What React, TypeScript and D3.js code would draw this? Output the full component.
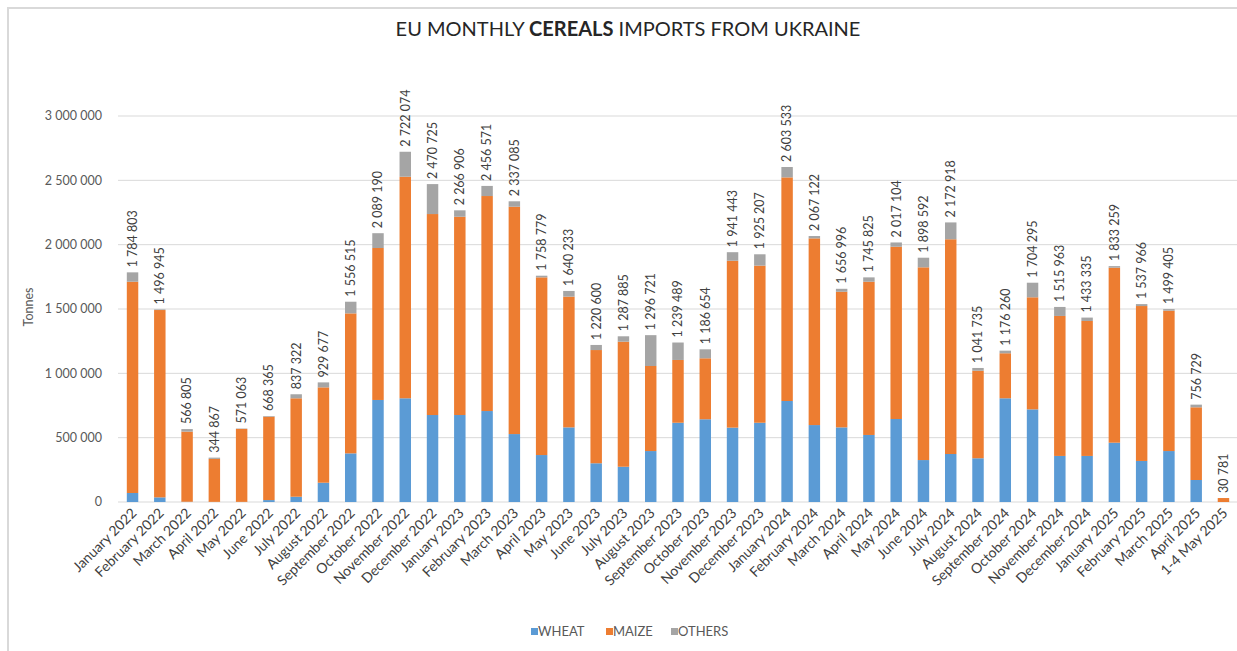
import React from "react";
import * as d3 from "d3";

const categories = [
  "January 2022","February 2022","March 2022","April 2022","May 2022","June 2022","July 2022","August 2022","September 2022","October 2022","November 2022","December 2022",
  "January 2023","February 2023","March 2023","April 2023","May 2023","June 2023","July 2023","August 2023","September 2023","October 2023","November 2023","December 2023",
  "January 2024","February 2024","March 2024","April 2024","May 2024","June 2024","July 2024","August 2024","September 2024","October 2024","November 2024","December 2024",
  "January 2025","February 2025","March 2025","April 2025","1-4 May 2025",
];

const wheat = [
  70000, 36000, 2000, 1000, 1000, 15000, 41000, 150000, 378000, 793000, 806000, 676000,
  676000, 707000, 528000, 365000, 580000, 301000, 274000, 396000, 616000, 643000, 578000, 616000,
  785000, 598000, 580000, 521000, 645000, 326000, 373000, 340000, 806000, 720000, 358000, 358000,
  461000, 319000, 396000, 171000, 0,
];

const maize = [
  1642000, 1456000, 545000, 334000, 567000, 648000, 765000, 741000, 1088000, 1181000, 1722000, 1562000,
  1541000, 1671000, 1767000, 1381000, 1016000, 880000, 972000, 661000, 488000, 474000, 1297000, 1221000,
  1738000, 1451000, 1054000, 1191000, 1339000, 1498000, 1669000, 680000, 350000, 871000, 1088000, 1049000,
  1360000, 1204000, 1091000, 565000, 30781,
];

const others = [
  72803, 4945, 19805, 9867, 3063, 5365, 31322, 38677, 90515, 115190, 194074, 232725,
  49906, 78571, 42085, 12779, 44233, 39600, 41885, 239721, 135489, 69654, 66443, 88207,
  80533, 18122, 22996, 33825, 33104, 74592, 130918, 21735, 20260, 113295, 69963, 26335,
  12259, 14966, 12405, 20729, 0,
];

const totals = [
  1784803, 1496945, 566805, 344867, 571063, 668365, 837322, 929677, 1556515, 2089190, 2722074, 2470725,
  2266906, 2456571, 2337085, 1758779, 1640233, 1220600, 1287885, 1296721, 1239489, 1186654, 1941443, 1925207,
  2603533, 2067122, 1656996, 1745825, 2017104, 1898592, 2172918, 1041735, 1176260, 1704295, 1515963, 1433335,
  1833259, 1537966, 1499405, 756729, 30781,
];

const yTicks = [0, 500000, 1000000, 1500000, 2000000, 2500000, 3000000];

const seriesNames = ["WHEAT", "MAIZE", "OTHERS"];
const seriesColors = ["#5B9BD5", "#ED7D31", "#A5A5A5"];

const W = 1237;
const H = 651;
const FONT = "Lato, 'Noto Sans', sans-serif";

const fmt = (v: number) => d3.format(",")(v).replace(/,/g, " ");

export default function App() {
  const x = d3
    .scaleBand<string>()
    .domain(categories)
    .range([118.9, 1237.1])
    .paddingInner(0.58)
    .paddingOuter(0.29);
  const y = d3.scaleLinear().domain([0, 3000000]).range([502, 116]);

  const rows = categories.map((c, i) => ({ cat: c, WHEAT: wheat[i], MAIZE: maize[i], OTHERS: others[i] }));
  const stacked = d3.stack<any>().keys(seriesNames)(rows);

  const legendItems = [
    { name: "WHEAT", sx: 531, tx: 538 },
    { name: "MAIZE", sx: 606, tx: 613 },
    { name: "OTHERS", sx: 671, tx: 678 },
  ];

  return (
    <svg
      width={W}
      height={H}
      style={{ position: "absolute", left: 0, top: 0, background: "#fff" }}
      fontFamily={FONT}
    >
      <rect x={0} y={0} width={W} height={H} fill="#fff" />
      <rect x={8} y={8} width={1300} height={700} fill="none" stroke="#d9d9d9" strokeWidth={2} />

      {/* title */}
      <text x={628} y={36} textAnchor="middle" fontSize={20} fill="#262626">
        EU MONTHLY <tspan fontWeight="bold">CEREALS</tspan> IMPORTS FROM UKRAINE
      </text>

      {/* gridlines */}
      {yTicks.map((t) => (
        <line key={t} x1={118} x2={W} y1={y(t)} y2={y(t)} stroke="#d9d9d9" strokeWidth={1} />
      ))}

      {/* y tick labels */}
      {yTicks.map((t) => (
        <text key={"l" + t} x={102} y={y(t)} dy="0.35em" textAnchor="end" fontSize={12.5} fill="#595959">
          {fmt(t)}
        </text>
      ))}

      <text
        transform={`translate(33,307) rotate(-90)`}
        textAnchor="middle"
        fontSize={12.5}
        fill="#595959"
      >
        Tonnes
      </text>

      {/* bars */}
      {stacked.map((s, si) => (
        <g key={s.key} fill={seriesColors[si]}>
          {s.map((d: any, i: number) => {
            const h = y(d[0]) - y(d[1]);
            if (h <= 0) return null;
            return (
              <rect
                key={i}
                x={x(categories[i])!}
                y={y(d[1])}
                width={x.bandwidth()}
                height={h}
              />
            );
          })}
        </g>
      ))}

      {/* value labels */}
      {totals.map((t, i) => {
        const cx = (x(categories[i]) as number) + x.bandwidth() / 2;
        const ty = y(t) - 5;
        return (
          <text
            key={"v" + i}
            transform={`translate(${cx},${ty}) rotate(-90)`}
            dy="0.35em"
            textAnchor="start"
            fontSize={12.5}
            fill="#404040"
          >
            {fmt(t)}
          </text>
        );
      })}

      {/* x labels */}
      {categories.map((c, i) => {
        const cx = (x(c) as number) + x.bandwidth() / 2;
        return (
          <text
            key={"x" + i}
            transform={`translate(${cx + 5},${514}) rotate(-45)`}
            textAnchor="end"
            fontSize={14}
            fill="#404040"
          >
            {c}
          </text>
        );
      })}

      {/* legend */}
      {legendItems.map((l, i) => (
        <g key={l.name}>
          <rect x={l.sx} y={628} width={7} height={7} fill={seriesColors[i]} />
          <text x={l.tx} y={636} fontSize={13} fill="#595959">
            {l.name}
          </text>
        </g>
      ))}
    </svg>
  );
}
